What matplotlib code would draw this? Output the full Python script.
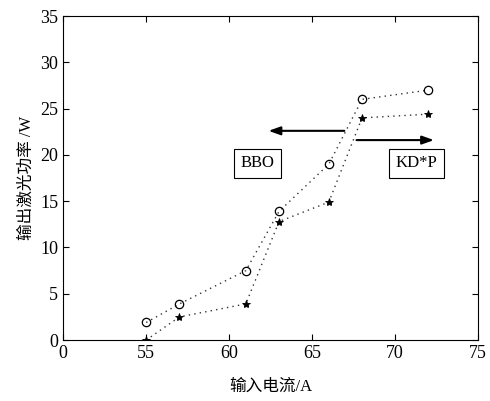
import numpy as np
import matplotlib.pyplot as plt

# 输入电流 (A) 与 输出激光功率 (W)
current = [55, 57, 61, 63, 66, 68, 72]
power_bbo = [1.9, 3.9, 7.5, 13.9, 19.0, 26.0, 27.0]
power_kdp = [0.0, 2.5, 3.9, 12.8, 14.9, 24.0, 24.4]

x_ticks = [50, 55, 60, 65, 70, 75]
x_tick_labels = ["0", "55", "60", "65", "70", "75"]
y_ticks = [0, 5, 10, 15, 20, 25, 30, 35]

fonts = ["Liberation Serif", "Noto Sans CJK SC", "DejaVu Serif"]
plt.rcParams["font.family"] = fonts

fig = plt.figure(figsize=(4.9, 4.01), dpi=100)
ax = fig.add_axes([0.129, 0.152, 0.847, 0.808])

ax.plot(current, power_bbo, linestyle=(0, (1, 3)), color="#333333", linewidth=1.0,
        marker="o", markersize=6, markerfacecolor="none", markeredgecolor="black",
        markeredgewidth=0.9)
ax.plot(current, power_kdp, linestyle=(0, (1, 3)), color="#333333", linewidth=1.0,
        marker="*", markersize=6, markeredgecolor="black", markerfacecolor="black",
        markeredgewidth=0.6)

ax.set_xlim(50, 75)
ax.set_ylim(0, 35)
ax.set_xticks(x_ticks)
ax.set_xticklabels(x_tick_labels)
ax.set_yticks(y_ticks)
ax.tick_params(direction="in", top=True, right=True, labelsize=13, length=4)

ax.annotate("", xy=(62.2, 22.6), xytext=(67.1, 22.6),
            arrowprops=dict(arrowstyle="-|>,head_length=0.7,head_width=0.25",
                            color="black", lw=1.5))
ax.annotate("", xy=(72.5, 21.6), xytext=(67.5, 21.6),
            arrowprops=dict(arrowstyle="-|>,head_length=0.7,head_width=0.25",
                            color="black", lw=1.5))

box = dict(boxstyle="square,pad=0.4", facecolor="white", edgecolor="black", linewidth=0.8)
ax.text(61.7, 19.1, "BBO", ha="center", va="center", fontsize=12, bbox=box)
ax.text(71.3, 19.1, "KD*P", ha="center", va="center", fontsize=12, bbox=box)

ax.set_xlabel("输入电流/A", fontsize=12, labelpad=12)
ax.set_ylabel("输出激光功率 /W", fontsize=12, labelpad=4)

fig.savefig("out.png", dpi=100)
